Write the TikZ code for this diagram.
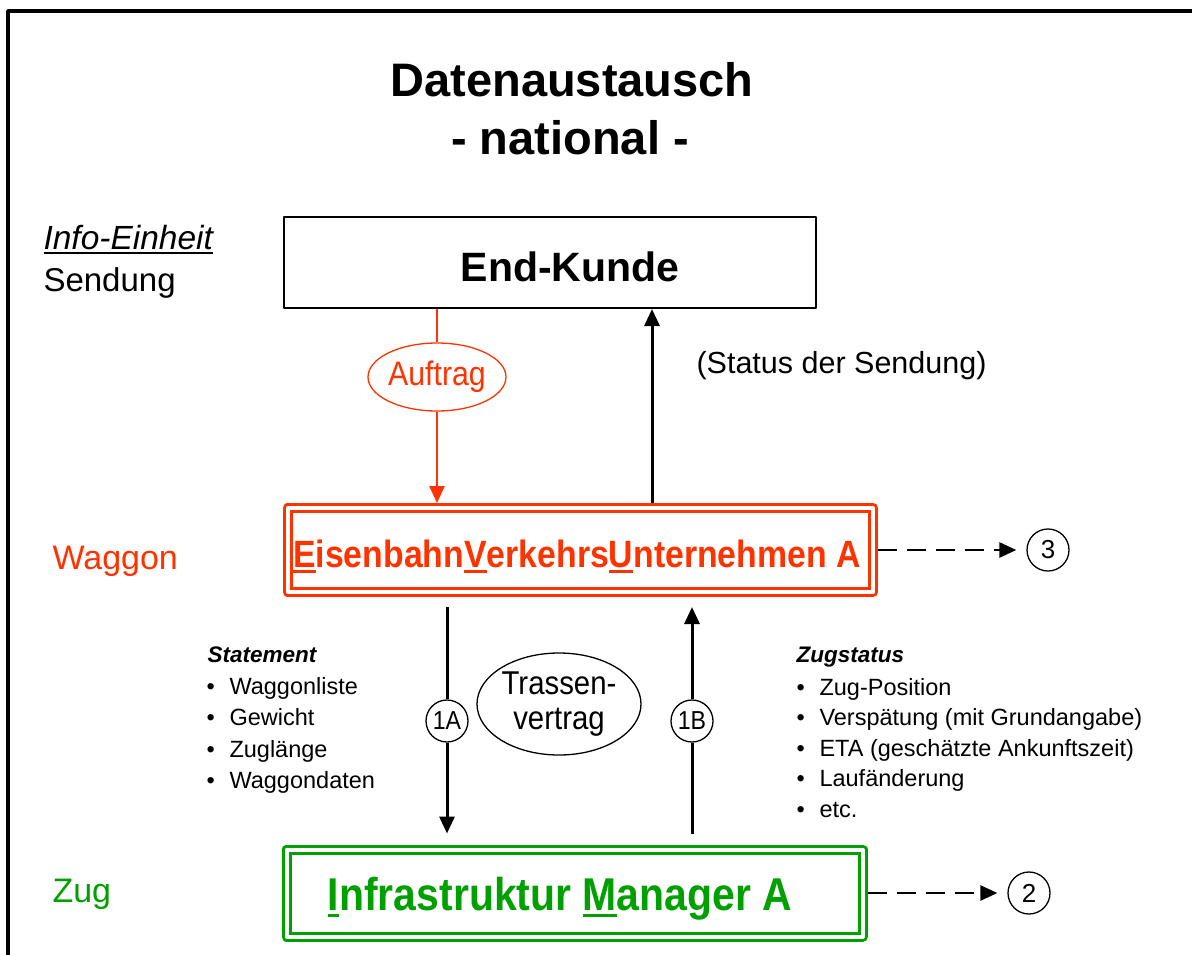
\documentclass[tikz,border=0pt]{standalone}
\usepackage{fontspec}
\setmainfont{Liberation Sans}
\usepackage{graphicx}
\usetikzlibrary{
	calc,
	arrows.meta,
	shapes.geometric
}

\definecolor{evurot}{RGB}{255,51,0}
\definecolor{imgruen}{RGB}{0,160,0}

% tamaño de letra en pt (1pt = 1px del dibujo)
\newcommand\groesse[1]{\fontsize{#1}{#1}\selectfont}
% texto un poco estrechado
\newcommand\schmal[1]{\scalebox{0.89}[1]{#1}}
% letra subrayada
\newcommand\unterstrich[1]{\setbox0=\hbox{#1}\rlap{\rule[-0.16em]{\wd0}{0.075em}}\box0}

\begin{document}
\begin{tikzpicture}[
	% Propiedades generales del dibujo
	x = 1pt, y = -1pt,
	line join = round,
	% Definición de nuevos estilos
	% 	a. cajas
	kasten/.style = {
		draw, line width = 2pt,
		inner sep = 0pt
	},
	doppel/.style = {
		draw = #1, double = white,
		line width = 3pt, double distance = 4pt,
		inner sep = 0pt, outer sep = 5pt
	},
	% 	b. óvalos y círculos numerados
	oval/.style = {
		ellipse, draw = #1,
		line width = 1.3pt, inner sep = 0pt
	},
	nummer/.style = {
		circle, draw, fill = white,
		line width = 1.3pt, minimum size = 42pt,
		inner sep = 0pt, font = \groesse{26}
	},
	%	c. flechas
	pfeil/.style = {
		line width = 3pt,
		arrows = -{Triangle[length = 17pt, width = 15pt]}
	},
	strichpfeil/.style = {
		pfeil, line width = 2.7pt,
		dash pattern = on 19pt off 10pt
	},
	%	d. textos
	seite/.style = {
		anchor = base west,
		font = \groesse{33}
	},
	liste/.style = {
		anchor = base west,
		font = \groesse{23.5}
	},
]

	% márgenes del dibujo
	\useasboundingbox (0,0) rectangle (1192,954);
	\draw[line width = 3.5pt] (8,970) -- (8,11) -- (1210,11);

	% título
	\node[anchor = base, font = \groesse{47}\bfseries] (titel) at (572,96) {Datenaustausch};
	\node[anchor = base, font = \groesse{47}\bfseries] (untertitel) at (570,154) {- national -};

	% textos a la izquierda
	\node[seite, font = \groesse{33.5}\itshape] (info) at (40,249) {\unterstrich{Info-Einheit}};
	\node[seite] (sendung) at (40,291) {Sendung};
	\node[seite, text = evurot, font = \groesse{34}] (waggon) at (49,569) {Waggon};
	\node[seite, text = imgruen, font = \groesse{34}] (zug) at (49,902) {Zug};

	% cajas
	\node[kasten, minimum width = 532pt, minimum height = 91pt] (kunde) at (550,262.5) {};
	\node[anchor = base, font = \groesse{41}\bfseries] (kundetxt) at (570,281) {End-Kunde};

	\node[doppel = evurot, minimum width = 585.5pt, minimum height = 84pt] (evu) at (580.25,550) {};
	\node[anchor = base, text = evurot, font = \groesse{38}\bfseries] (evutxt) at (577,567)
		{\schmal{\unterstrich{E}isenbahn\unterstrich{V}erkehrs\unterstrich{U}nternehmen A}};

	\node[doppel = imgruen, minimum width = 576pt, minimum height = 87pt] (im) at (574.5,893) {};
	\node[anchor = base, text = imgruen, font = \groesse{46}\bfseries] (imtxt) at (560,910)
		{\schmal{\unterstrich{I}nfrastruktur \unterstrich{M}anager A}};

	% pedido
	\node[oval = evurot, minimum width = 123pt, minimum height = 68pt,
		text = evurot, font = \groesse{34}] (auftrag) at (437,377) {\schmal{Auftrag}};
	\draw[evurot, line width = 2.5pt] (auftrag |- kunde.south) -- (auftrag);
	\draw[evurot, pfeil, line width = 2.5pt] (auftrag) -- (auftrag |- evu.north);

	% estado
	\coordinate (sx) at (652,0);
	\draw[pfeil] (evu.north -| sx) -- (kunde.south -| sx);
	\node[anchor = base west, font = \groesse{30.5}] (status) at (693,373) {(Status der Sendung)};

	% contrato
	\node[oval = black, minimum width = 164pt, minimum height = 102pt,
		align = center, font = \groesse{33}] (trasse) at (559,704)
		{\schmal{Trassen-}\\[2pt]\schmal{vertrag}};

	% flujos 1A y 1B
	\node[nummer] (n1a) at (447,721) {\schmal{1A}};
	\node[nummer] (n1b) at (692,721) {\schmal{1B}};
	\draw[line width = 3pt, shorten <= 10pt] (evu.south -| n1a) -- (n1a);
	\draw[pfeil, shorten >= 11pt] (n1a) -- (im.north -| n1a);
	\draw[line width = 3pt, shorten <= 11pt] (im.north -| n1b) -- (n1b);
	\draw[pfeil, shorten >= 10pt] (n1b) -- (evu.south -| n1b);

	% salidas 2 y 3
	\node[nummer] (n3) at (1048,550) {3};
	\node[nummer] (n2) at (1029,893) {2};
	\draw[strichpfeil, shorten >= 10pt] (evu.east) -- (n3);
	\draw[strichpfeil, shorten >= 10pt] (im.east) -- (n2);

	% listas
	\node[liste, font = \groesse{22.5}\bfseries\itshape] (statement) at (204,662) {Statement};
	\foreach \eintrag [count = \i] in {Waggonliste, Gewicht, Zuglänge, Waggondaten}
		\node[liste] (statement\i) at (203,662.5+31.5*\i) {\makebox[23pt][l]{•}\eintrag};

	\node[liste, font = \groesse{22.5}\bfseries\itshape] (zugstatus) at (793,662) {Zugstatus};
	\foreach \eintrag [count = \i] in {{Zug-Position}, {Verspätung (mit Grundangabe)},
		{ETA (geschätzte Ankunftszeit)}, {Laufänderung}, {etc.}}
		\node[liste] (zugstatus\i) at (793,664.5+30.5*\i) {\makebox[23pt][l]{•}\eintrag};

\end{tikzpicture}
\end{document}
